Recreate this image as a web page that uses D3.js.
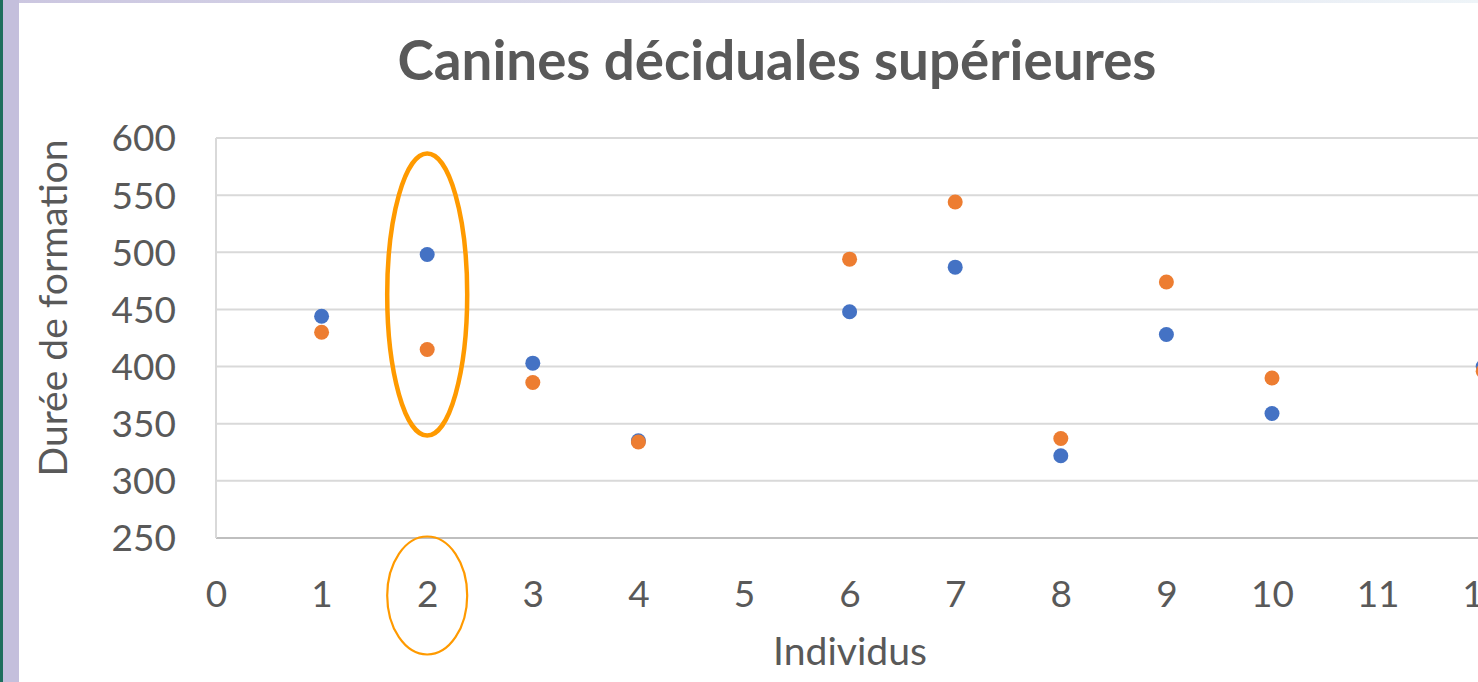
<!DOCTYPE html>
<html>
<head>
<meta charset="utf-8">
<script src="https://cdn.jsdelivr.net/npm/d3@7"></script>
<style>
  html, body { margin: 0; padding: 0; background: #fff; overflow: hidden; }
  svg { display: block; }
</style>
</head>
<body>
<svg id="chart" width="1478" height="682"></svg>
<script>
// ---- Data ----
const individus   = [1, 2, 3, 4, 6, 7, 8, 9, 10, 12];
const seriesBlue  = [444, 498, 403, 335, 448, 487, 322, 428, 359, 400];
const seriesOrange= [430, 415, 386, 334, 494, 544, 337, 474, 390, 396];
const xTicks = [0, 1, 2, 3, 4, 5, 6, 7, 8, 9, 10, 11, 12];
const yTicks = [250, 300, 350, 400, 450, 500, 550, 600];
const titleText = "Canines déciduales supérieures";
const xTitle = "Individus";
const yTitle = "Durée de formation";
const highlighted = 2;

const W = 1478, H = 682;
const svg = d3.select("#chart");
const FONT = "Lato, 'Open Sans', sans-serif";
const TXT = "#595959";

// page frame
svg.append("rect").attr("x", 0).attr("y", 0).attr("width", W).attr("height", H).attr("fill", "#fff");
const grad = svg.append("defs").append("linearGradient").attr("id", "topg");
grad.append("stop").attr("offset", "0%").attr("stop-color", "#cbc6e0");
grad.append("stop").attr("offset", "100%").attr("stop-color", "#eef4f8");
svg.append("rect").attr("x", 0).attr("y", 0).attr("width", W).attr("height", 3).attr("fill", "url(#topg)");
svg.append("rect").attr("x", 0).attr("y", 0).attr("width", 19).attr("height", H).attr("fill", "#c4bfdc");
svg.append("rect").attr("x", 0).attr("y", 0).attr("width", 3).attr("height", H).attr("fill", "#1e6f5c");

// scales
const x = d3.scaleLinear().domain([0, 12]).range([216, 1483.2]);
const y = d3.scaleLinear().domain([250, 600]).range([538, 138]);

// gridlines
svg.append("g").selectAll("line").data(yTicks).join("line")
  .attr("x1", x(0)).attr("x2", W)
  .attr("y1", d => y(d)).attr("y2", d => y(d))
  .attr("stroke", d => d === 250 ? "#bfbfbf" : "#d9d9d9")
  .attr("stroke-width", 2);
svg.append("line").attr("x1", x(0)).attr("x2", x(0)).attr("y1", y(600)).attr("y2", y(250))
  .attr("stroke", "#d9d9d9").attr("stroke-width", 2);

// axes (labels only)
const yAxis = d3.axisLeft(y).tickValues(yTicks).tickSize(0).tickPadding(40);
const gy = svg.append("g").attr("transform", `translate(${x(0)},0)`).call(yAxis);
gy.select(".domain").remove();
gy.selectAll("text").attr("font-family", FONT).attr("font-size", 37).attr("fill", TXT).attr("dy", "0.35em");

const xAxis = d3.axisBottom(x).tickValues(xTicks).tickSize(0).tickPadding(38);
const gx = svg.append("g").attr("transform", `translate(0,${y(250)})`).call(xAxis);
gx.select(".domain").remove();
gx.selectAll("text").attr("font-family", FONT).attr("font-size", 37).attr("fill", TXT).attr("dy", "0.35em")
  .attr("y", 56);

// data
const dataB = individus.map((d, i) => ({x: d, y: seriesBlue[i]}));
const dataO = individus.map((d, i) => ({x: d, y: seriesOrange[i]}));
svg.append("g").selectAll("circle").data(dataB).join("circle")
  .attr("cx", d => x(d.x)).attr("cy", d => y(d.y)).attr("r", 7.5).attr("fill", "#4472c4");
svg.append("g").selectAll("circle").data(dataO).join("circle")
  .attr("cx", d => x(d.x)).attr("cy", d => y(d.y)).attr("r", 7.5).attr("fill", "#ed7d31");

// highlight ellipses
svg.append("ellipse").attr("cx", x(highlighted)).attr("cy", y(463)).attr("rx", 40).attr("ry", 141)
  .attr("fill", "none").attr("stroke", "#ff9a00").attr("stroke-width", 4.5);
svg.append("ellipse").attr("cx", x(highlighted)).attr("cy", 595.5).attr("rx", 40).attr("ry", 59)
  .attr("fill", "none").attr("stroke", "#ff9a00").attr("stroke-width", 2.2);

// titles
function fit(sel, target) {
  const w = sel.node().getComputedTextLength();
  const fs = parseFloat(sel.attr("font-size"));
  sel.attr("font-size", fs * target / w);
}
const t = svg.append("text").text(titleText).attr("x", 777).attr("y", 80)
  .attr("text-anchor", "middle").attr("font-family", FONT).attr("font-weight", "bold")
  .attr("font-size", 44).attr("fill", TXT);
fit(t, 759);

const xt = svg.append("text").text(xTitle).attr("x", 850).attr("y", 665)
  .attr("text-anchor", "middle").attr("font-family", FONT).attr("font-size", 35).attr("fill", TXT);
fit(xt, 154);

const yt = svg.append("text").text(yTitle)
  .attr("transform", `translate(67,308) rotate(-90)`)
  .attr("text-anchor", "middle").attr("font-family", FONT).attr("font-size", 35).attr("fill", TXT);
fit(yt, 337);
</script>
</body>
</html>
